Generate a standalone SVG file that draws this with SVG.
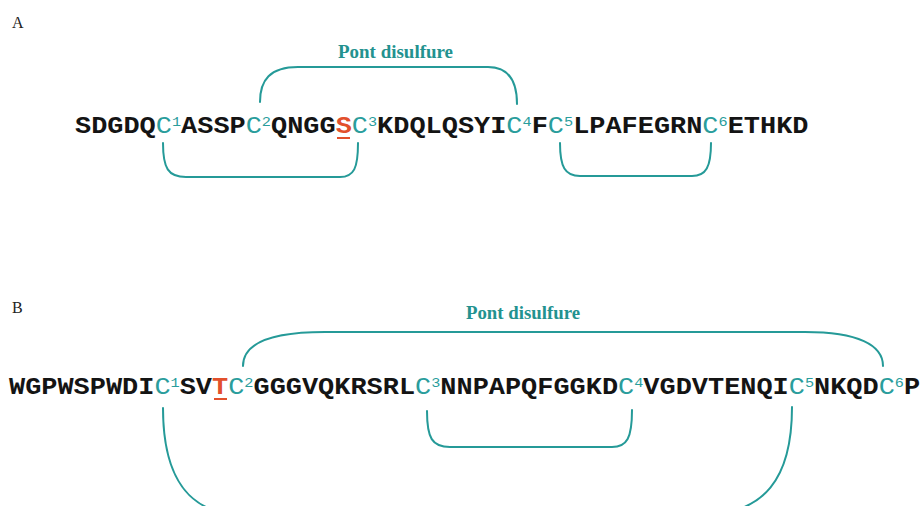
<svg xmlns="http://www.w3.org/2000/svg" width="923" height="506" viewBox="0 0 923 506">
  <style>
    .panel { font-family: "Liberation Serif", "Times New Roman", serif; font-size: 16px; fill: #222; }
    .label { font-family: "Liberation Serif", "Times New Roman", serif; font-size: 19px; font-weight: bold; fill: #23928f; }
    .seq { font-family: "Liberation Mono", "Courier New", monospace; font-size: 23px; font-weight: bold; fill: #141414; }
    .cys { fill: #2a9d9c; font-weight: normal; }
    .sup { fill: #2a9d9c; font-weight: normal; font-size: 13px; }
    .mut { fill: #e2502c; }
    .bond { fill: none; stroke: #259a98; stroke-width: 2; stroke-linecap: round; }
    .ul { stroke: #e2502c; stroke-width: 2; }
  </style>
  <rect width="923" height="506" fill="#ffffff"/>

  <!-- Panel A -->
  <g id="panelA">
    <text class="panel" x="12" y="28">A</text>
    <text id="labelA" class="label" x="338" y="58" textLength="115" lengthAdjust="spacingAndGlyphs">Pont disulfure</text>
    <g id="seqA">
      <text class="seq" transform="translate(75,133) scale(1.171,1)" x="0" y="0">SDGDQ<tspan class="cys">C</tspan><tspan class="sup" dy="-7">1</tspan><tspan dy="7">ASSP</tspan><tspan class="cys">C</tspan><tspan class="sup" dy="-7">2</tspan><tspan dy="7">QNGG</tspan><tspan class="mut">S</tspan><tspan class="cys">C</tspan><tspan class="sup" dy="-7">3</tspan><tspan dy="7">KDQLQSYI</tspan><tspan class="cys">C</tspan><tspan class="sup" dy="-7">4</tspan><tspan dy="7">F</tspan><tspan class="cys">C</tspan><tspan class="sup" dy="-7">5</tspan><tspan dy="7">LPAFEGRN</tspan><tspan class="cys">C</tspan><tspan class="sup" dy="-7">6</tspan><tspan dy="7">ETHKD</tspan></text>
      <line class="ul" x1="337" y1="138" x2="350" y2="138"/>
    </g>
  </g>

  <!-- Panel B -->
  <g id="panelB">
    <text class="panel" x="12" y="313">B</text>
    <text id="labelB" class="label" x="466" y="319" textLength="114" lengthAdjust="spacingAndGlyphs">Pont disulfure</text>
    <g id="seqB">
      <text class="seq" transform="translate(9,394) scale(1.171,1)" x="0" y="0">WGPWSPWDI<tspan class="cys">C</tspan><tspan class="sup" dy="-7">1</tspan><tspan dy="7">SV</tspan><tspan class="mut">T</tspan><tspan class="cys">C</tspan><tspan class="sup" dy="-7">2</tspan><tspan dy="7">GGGVQKRSRL</tspan><tspan class="cys">C</tspan><tspan class="sup" dy="-7">3</tspan><tspan dy="7">NNPAPQFGGKD</tspan><tspan class="cys">C</tspan><tspan class="sup" dy="-7">4</tspan><tspan dy="7">VGDVTENQI</tspan><tspan class="cys">C</tspan><tspan class="sup" dy="-7">5</tspan><tspan dy="7">NKQD</tspan><tspan class="cys">C</tspan><tspan class="sup" dy="-7">6</tspan><tspan dy="7">P</tspan></text>
      <line class="ul" x1="214" y1="399" x2="227" y2="399"/>
    </g>
  </g>

  <!-- Disulfide bridges -->
  <g id="connectors">
    <!-- A: C2-C4 above -->
    <path class="bond" d="M 260 102 C 260 80 270 67 298 67 L 488 67 C 508 67 517 80 517 104"/>
    <!-- A: C1-C3 below -->
    <path class="bond" d="M 163 143 C 163 168 168 177 186 177 L 340 177 C 354 177 358 168 358 143"/>
    <!-- A: C5-C6 below -->
    <path class="bond" d="M 560 143 C 560 167 565 176 580 176 L 692 176 C 706 176 711 167 711 143"/>
    <!-- B: C2-C6 above -->
    <path class="bond" d="M 243 366 C 243 343 272 332 325 332 L 805 332 C 858 332 883 345 883 366"/>
    <!-- B: C3-C4 below -->
    <path class="bond" d="M 427 411 C 427 438 432 447 450 447 L 612 447 C 627 447 632 438 632 410"/>
    <!-- B: C1-C5 below -->
    <path class="bond" d="M 163 408 C 163 480 190 515 245 515 L 700 515 C 765 515 792 478 792 407"/>
  </g>
</svg>
